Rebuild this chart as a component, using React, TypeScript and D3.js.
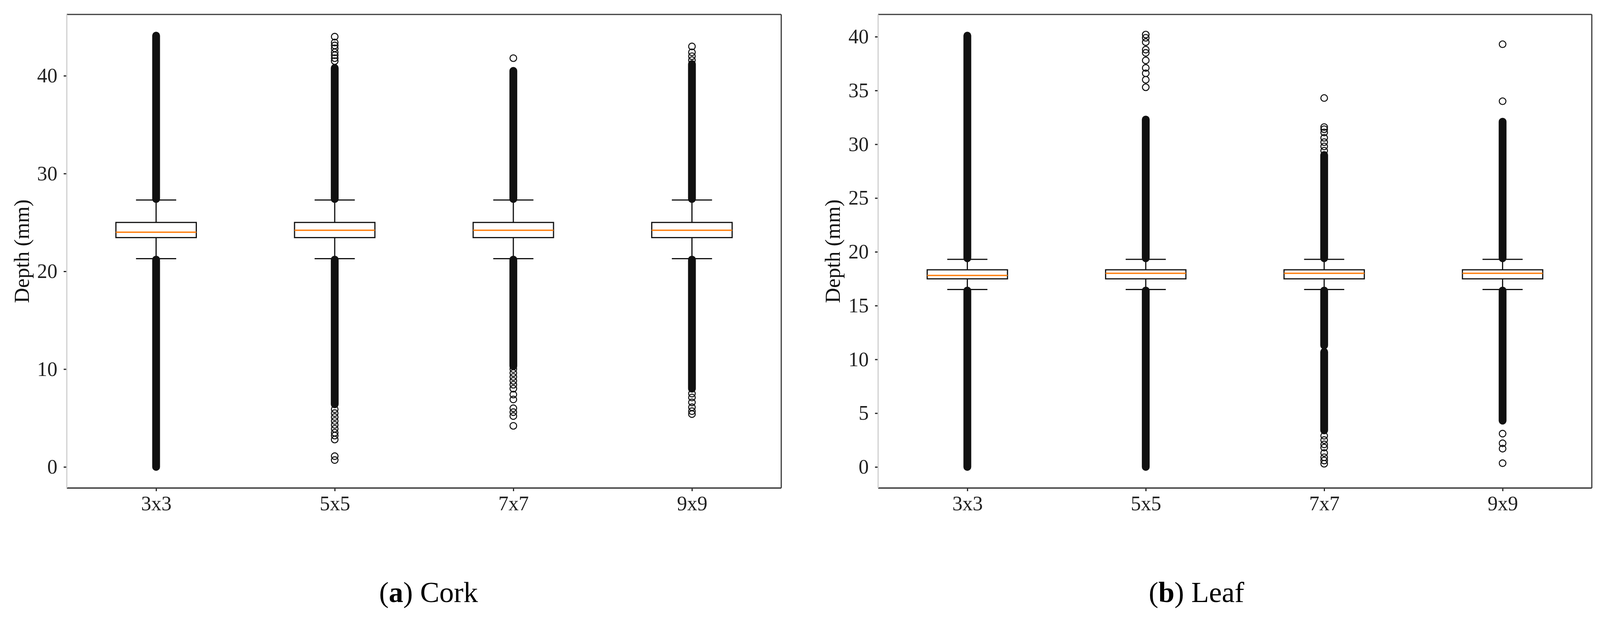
import * as d3 from "d3";
import React, { useEffect, useRef } from "react";

const categories = ["3x3", "5x5", "7x7", "9x9"];

// Cork panel (a)
const corkQ1 = [23.45, 23.45, 23.45, 23.45];
const corkMedian = [24.0, 24.2, 24.2, 24.2];
const corkQ3 = [25.0, 25.0, 25.0, 25.0];
const corkWhiskerLow = [21.3, 21.3, 21.3, 21.3];
const corkWhiskerHigh = [27.3, 27.3, 27.3, 27.3];
// runs of overlapping outliers, [from, to]
const corkBands = [
  [[0, 21.2], [27.4, 44.1]],
  [[6.4, 21.2], [27.4, 40.8]],
  [[10.3, 21.2], [27.4, 40.5]],
  [[8.0, 21.2], [27.4, 41.2]],
];
const corkOutliers = [
  [],
  [0.7, 1.1, 2.8, 3.2, 3.5, 3.9, 4.3, 4.7, 5.1, 5.5, 5.9, 41.5, 41.8, 42.1, 42.4, 42.8, 43.1, 43.4, 44.0],
  [4.2, 5.2, 5.6, 6.0, 6.9, 7.4, 8.0, 8.4, 8.8, 9.2, 9.6, 10.0, 41.8],
  [5.4, 5.7, 6.1, 6.6, 7.1, 7.5, 41.6, 42.0, 42.4, 43.0],
];
const corkTicks = [0, 10, 20, 30, 40];

// Leaf panel (b)
const leafQ1 = [17.49, 17.49, 17.49, 17.49];
const leafMedian = [17.8, 18.0, 18.0, 18.0];
const leafQ3 = [18.33, 18.33, 18.33, 18.33];
const leafWhiskerLow = [16.5, 16.5, 16.5, 16.5];
const leafWhiskerHigh = [19.3, 19.3, 19.3, 19.3];
const leafBands = [
  [[0, 16.4], [19.4, 40.1]],
  [[0, 16.4], [19.4, 32.3]],
  [[3.4, 10.7], [11.3, 16.4], [19.4, 29.0]],
  [[4.3, 16.4], [19.4, 32.1]],
];
const leafOutliers = [
  [],
  [35.3, 36.0, 36.6, 37.1, 37.8, 38.5, 38.8, 39.5, 39.9, 40.2],
  [0.3, 0.6, 0.9, 1.3, 1.8, 2.1, 2.5, 2.9, 29.4, 29.8, 30.2, 30.6, 31.1, 31.4, 31.6, 34.3],
  [0.35, 1.7, 2.2, 3.1, 34.0, 39.3],
];
const leafTicks = [0, 5, 10, 15, 20, 25, 30, 35, 40];

const serif = "'Liberation Serif', 'Times New Roman', serif";

interface PanelSpec {
  left: number;
  right: number;
  yDomain: [number, number];
  ticks: number[];
  q1: number[];
  median: number[];
  q3: number[];
  whiskerLow: number[];
  whiskerHigh: number[];
  bands: number[][][];
  outliers: number[][];
  labelX: number;
  captionX: number;
  letter: string;
  name: string;
}

const panels: PanelSpec[] = [
  {
    left: 171, right: 2000, yDomain: [-2.16, 46.27], ticks: corkTicks,
    q1: corkQ1, median: corkMedian, q3: corkQ3,
    whiskerLow: corkWhiskerLow, whiskerHigh: corkWhiskerHigh,
    bands: corkBands, outliers: corkOutliers,
    labelX: 74, captionX: 1097, letter: "a", name: "Cork",
  },
  {
    left: 2248, right: 4075, yDomain: [-1.96, 42.07], ticks: leafTicks,
    q1: leafQ1, median: leafMedian, q3: leafQ3,
    whiskerLow: leafWhiskerLow, whiskerHigh: leafWhiskerHigh,
    bands: leafBands, outliers: leafOutliers,
    labelX: 2150, captionX: 3063, letter: "b", name: "Leaf",
  },
];

const top = 37;
const bottom = 1250;

function drawPanel(svg: d3.Selection<SVGSVGElement, unknown, null, undefined>, p: PanelSpec) {
  const x = d3.scalePoint<string>().domain(categories).range([p.left, p.right]).padding(0.5);
  const y = d3.scaleLinear().domain(p.yDomain).range([bottom, top]);
  const boxW = x.step() * 0.45;
  const capW = boxW / 2;
  const r = 8.5;

  const g = svg.append("g");

  categories.forEach((c, i) => {
    const cx = x(c)!;
    const box = g.append("g");

    // whiskers
    box.append("line").attr("x1", cx).attr("x2", cx)
      .attr("y1", y(p.q3[i])).attr("y2", y(p.whiskerHigh[i]))
      .attr("stroke", "#111").attr("stroke-width", 3);
    box.append("line").attr("x1", cx).attr("x2", cx)
      .attr("y1", y(p.q1[i])).attr("y2", y(p.whiskerLow[i]))
      .attr("stroke", "#111").attr("stroke-width", 3);

    // caps
    [p.whiskerHigh[i], p.whiskerLow[i]].forEach((v) => {
      box.append("line").attr("x1", cx - capW / 2).attr("x2", cx + capW / 2)
        .attr("y1", y(v)).attr("y2", y(v))
        .attr("stroke", "#111").attr("stroke-width", 3);
    });

    // box
    box.append("rect")
      .attr("x", cx - boxW / 2).attr("width", boxW)
      .attr("y", y(p.q3[i])).attr("height", y(p.q1[i]) - y(p.q3[i]))
      .attr("fill", "#fff").attr("stroke", "#111").attr("stroke-width", 3);

    // median
    box.append("line").attr("x1", cx - boxW / 2).attr("x2", cx + boxW / 2)
      .attr("y1", y(p.median[i])).attr("y2", y(p.median[i]))
      .attr("stroke", "#ff7f0e").attr("stroke-width", 3.5);

    // dense runs of fliers
    p.bands[i].forEach(([lo, hi]) => {
      box.append("rect")
        .attr("x", cx - r - 1.5).attr("width", 2 * r + 3)
        .attr("y", y(hi) - r - 1.5).attr("height", y(lo) - y(hi) + 2 * r + 3)
        .attr("rx", r + 1.5)
        .attr("fill", "#111");
    });

    // single fliers
    box.selectAll("circle.flier")
      .data(p.outliers[i])
      .join("circle")
      .attr("class", "flier")
      .attr("cx", cx).attr("cy", (d) => y(d)).attr("r", r)
      .attr("fill", "none").attr("stroke", "#111").attr("stroke-width", 2.6);
  });

  // Y axis
  const ya = g.append("g")
    .attr("transform", `translate(${p.left},0)`)
    .call(d3.axisLeft(y).tickValues(p.ticks).tickSize(8).tickPadding(16));
  ya.select(".domain").remove();
  ya.attr("font-family", serif).attr("font-size", 52).attr("color", "#222");
  ya.selectAll(".tick line").attr("stroke-width", 3);

  // X axis
  const xa = g.append("g")
    .attr("transform", `translate(0,${bottom})`)
    .call(d3.axisBottom(x).tickSize(8).tickPadding(12));
  xa.select(".domain").remove();
  xa.attr("font-family", serif).attr("font-size", 52).attr("color", "#222");
  xa.selectAll(".tick line").attr("stroke-width", 3);

  // spines
  g.append("line").attr("x1", p.left).attr("x2", p.right).attr("y1", top).attr("y2", top)
    .attr("stroke", "#3a3a3a").attr("stroke-width", 3);
  g.append("line").attr("x1", p.right).attr("x2", p.right).attr("y1", top).attr("y2", bottom)
    .attr("stroke", "#3a3a3a").attr("stroke-width", 3);
  g.append("line").attr("x1", p.left).attr("x2", p.right).attr("y1", bottom).attr("y2", bottom)
    .attr("stroke", "#3a3a3a").attr("stroke-width", 3.5);
  g.append("line").attr("x1", p.left).attr("x2", p.left).attr("y1", top).attr("y2", bottom)
    .attr("stroke", "#cfcfcf").attr("stroke-width", 3);

  // Y label
  g.append("text")
    .attr("transform", `translate(${p.labelX},${(top + bottom) / 2}) rotate(-90)`)
    .attr("text-anchor", "middle")
    .attr("font-family", serif).attr("font-size", 54).attr("fill", "#111")
    .text("Depth (mm)");

  // caption
  const cap = g.append("text")
    .attr("x", p.captionX).attr("y", 1542)
    .attr("text-anchor", "middle")
    .attr("font-family", serif).attr("font-size", 74).attr("fill", "#000");
  cap.append("tspan").text("(");
  cap.append("tspan").attr("font-weight", "bold").text(p.letter);
  cap.append("tspan").text(") " + p.name);
}

const App: React.FC = () => {
  const ref = useRef<SVGSVGElement | null>(null);

  useEffect(() => {
    if (!ref.current) return;
    const svg = d3.select(ref.current);
    svg.selectAll("*").remove();
    panels.forEach((p) => drawPanel(svg, p));
  }, []);

  return (
    <svg
      ref={ref}
      width={4116}
      height={1588}
      style={{ position: "absolute", left: 0, top: 0, background: "#fff" }}
    />
  );
};

export default App;
